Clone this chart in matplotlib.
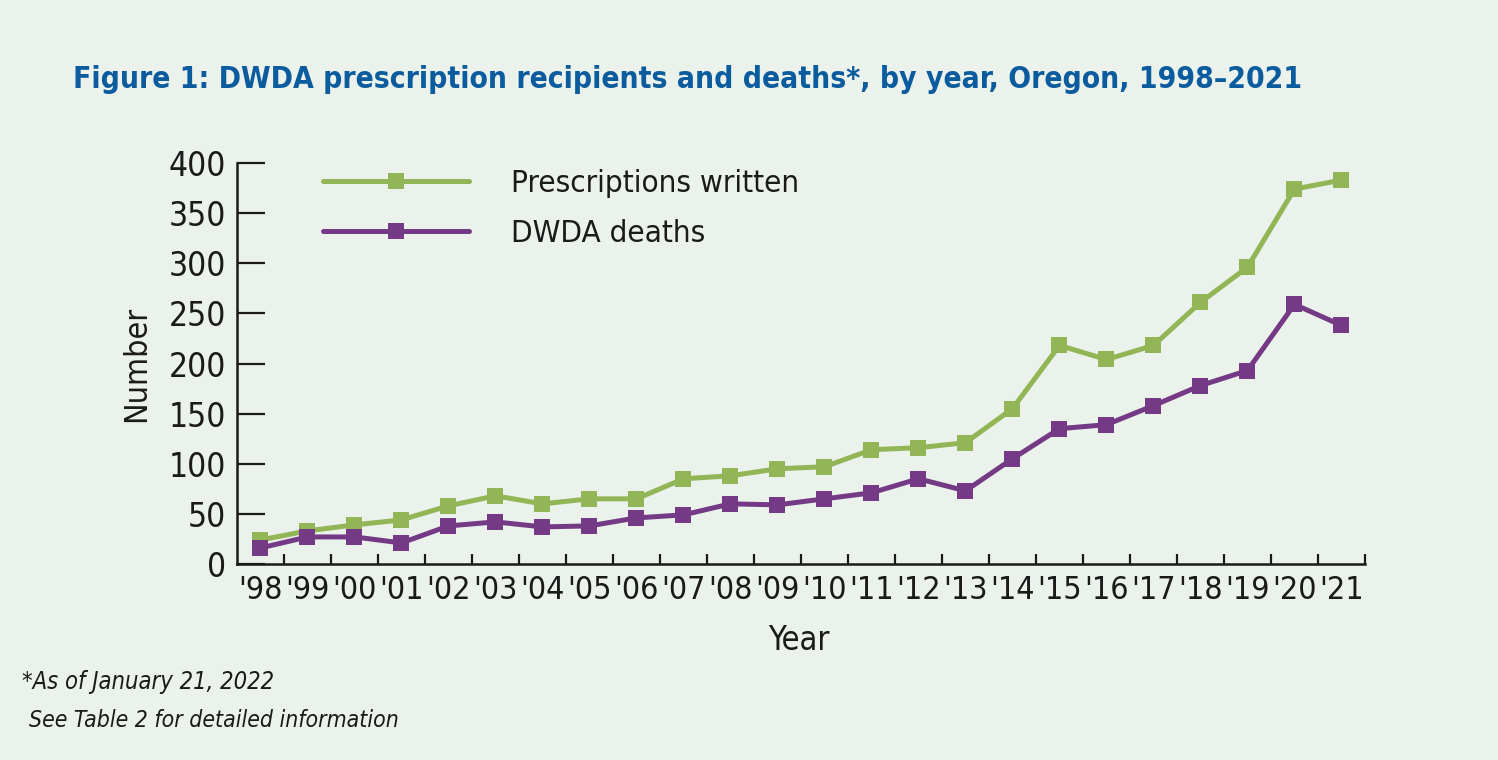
import matplotlib.pyplot as plt

years = list(range(1998, 2022))
year_labels = ["'" + str(y)[2:] for y in years]
prescriptions = [24, 33, 39, 44, 58, 68, 60, 65, 65, 85, 88, 95, 97, 114, 116, 121,
                 155, 218, 204, 218, 261, 296, 374, 383]
deaths = [16, 27, 27, 21, 38, 42, 37, 38, 46, 49, 60, 59, 65, 71, 85, 73,
          105, 135, 139, 158, 178, 193, 259, 238]

# narrow look: DejaVu Sans Condensed
plt.rcParams['font.family'] = ['DejaVu Sans']
plt.rcParams['font.stretch'] = 'condensed'

bg = '#ebf2eb'
green = '#92b556'
purple = '#743a86'
blue = '#0b5c9e'
ink = '#1a1a1a'

fig = plt.figure(figsize=(14.98, 7.6), dpi=100, facecolor=bg)
ax = fig.add_axes([0.1582, 0.2579, 0.9112 - 0.1582, 0.7855 - 0.2579])
ax.set_facecolor(bg)

x = list(range(len(years)))
l1, = ax.plot(x, prescriptions, color=green, lw=3.6, marker='s', ms=12, mew=0,
              label='Prescriptions written', solid_capstyle='round')
l2, = ax.plot(x, deaths, color=purple, lw=3.6, marker='s', ms=12, mew=0,
              label='DWDA deaths', solid_capstyle='round')

ax.set_xlim(-0.5, len(years) - 0.5)
ax.set_ylim(0, 400)
ax.set_yticks(range(0, 401, 50))
ax.set_xticks(x)
ax.set_xticklabels(year_labels)
ax.set_xticks([i + 0.5 for i in x], minor=True)

for s in ['top', 'right']:
    ax.spines[s].set_visible(False)
for s in ['left', 'bottom']:
    ax.spines[s].set_linewidth(1.8)
    ax.spines[s].set_color(ink)

ax.tick_params(axis='y', direction='in', length=20, width=1.6, labelsize=24,
               pad=8, colors=ink)
ax.tick_params(axis='x', which='major', length=0, labelsize=23, pad=8,
               colors=ink)
ax.tick_params(axis='x', which='minor', direction='in', length=7, width=1.6,
               color=ink)

ax.set_ylabel('Number', fontsize=23, color=ink)
ax.yaxis.set_label_coords(-0.075, 0.5)
ax.set_xlabel('Year', fontsize=23.5, color=ink)
ax.xaxis.set_label_coords(0.498, -0.15)

leg = ax.legend(handles=[l1, l2], loc='upper left', bbox_to_anchor=(0.0515, 1.055),
                frameon=False, fontsize=22.5, handlelength=4.65, handletextpad=1.35,
                labelspacing=0.68, labelcolor=ink)

title = fig.text(73 / 1498, 1 - 88 / 760,
                 'Figure 1: DWDA prescription recipients and deaths*, by year, Oregon, 1998\u20132021',
                 fontsize=26, fontweight='bold', color=blue, va='baseline', ha='left')
r = fig.canvas.get_renderer()
w = title.get_window_extent(r).width
title.set_fontsize(26 * 1232 / w)

fig.text(22 / 1498, 1 - 689 / 760, '*As of January 21, 2022', fontsize=17,
         style='italic', color=ink, va='baseline')
fig.text(29 / 1498, 1 - 727 / 760, 'See Table 2 for detailed information', fontsize=16.5,
         style='italic', color=ink, va='baseline')

fig.savefig('out.png', dpi=100, facecolor=bg)
